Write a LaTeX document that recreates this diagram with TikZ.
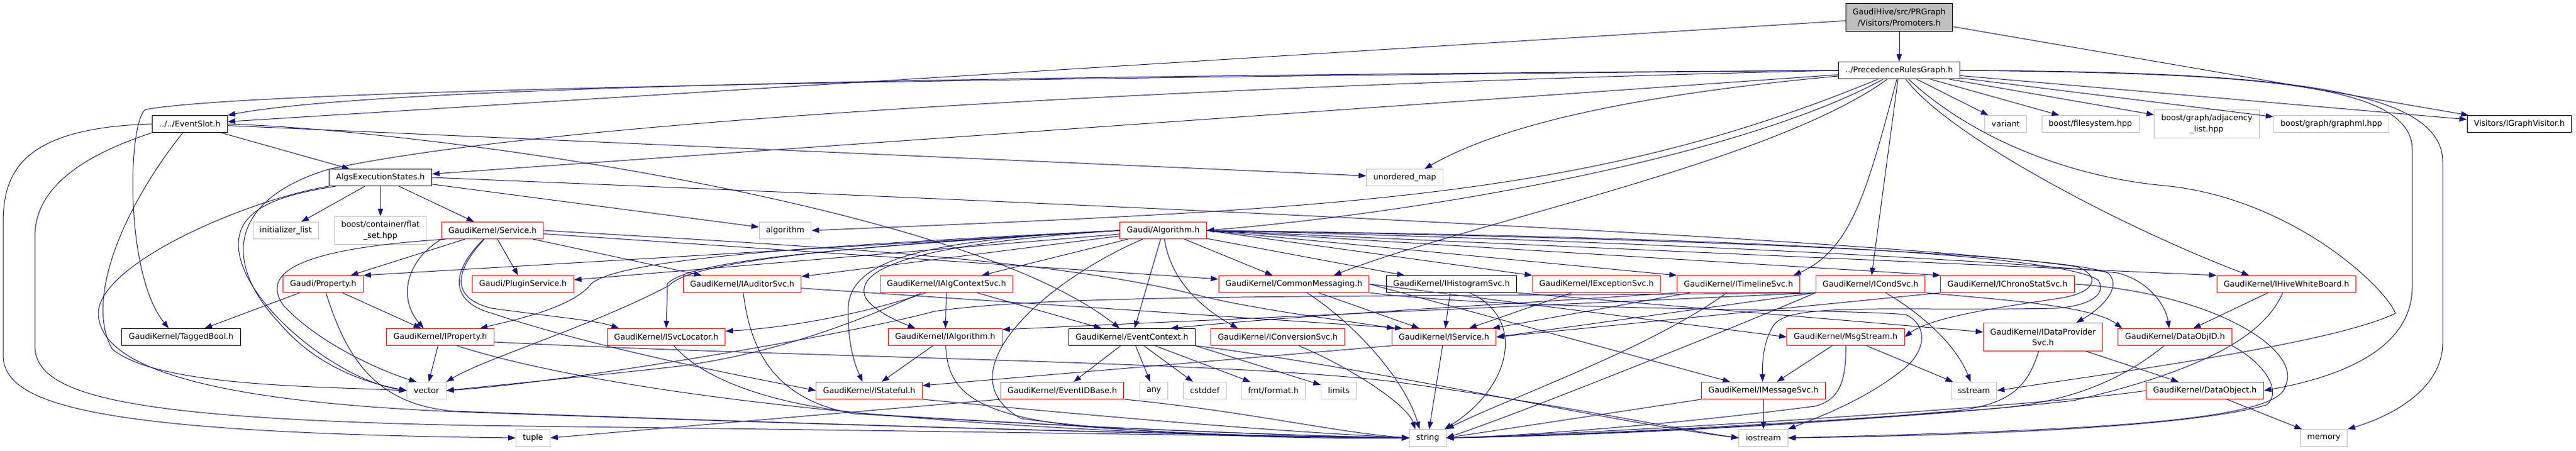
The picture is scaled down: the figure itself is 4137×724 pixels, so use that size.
\documentclass[tikz,border=0pt]{standalone}
\usepackage{fontspec}
\setmainfont{DejaVu Sans}
\usetikzlibrary{arrows.meta}

\definecolor{edgeblue}{HTML}{191970}
\definecolor{sysgray}{HTML}{BFBFBF}

\begin{document}
\begin{tikzpicture}[x=0.75pt, y=-0.75pt, >={Triangle[length=9pt,width=6.5pt]}]
  \tikzstyle{hdr}=[rectangle, draw, line width=0.75pt, inner xsep=8.25pt, inner ysep=0pt, minimum height=20.25pt, align=center, font=\fontsize{9.6}{13.1}\selectfont]
  \tikzstyle{localbox}=[hdr, draw=black]
  \tikzstyle{redbox}=[hdr, draw=red]
  \tikzstyle{sysbox}=[hdr, draw=sysgray]
  \tikzstyle{rootbox}=[hdr, draw=black, fill=sysgray]
  \tikzstyle{twoline}=[minimum height=33.75pt]
  \tikzstyle{inc}=[->, draw=edgeblue, line width=0.75pt]

  \useasboundingbox (0,0) rectangle (4137,724);
  \fill[white] (0,0) rectangle (4137,724);

  % headers, one row per include depth
  \node[rootbox, twoline] (prom) at (3050,28) {GaudiHive/src/PRGraph\\/Visitors/Promoters.h};
  \node[localbox] (prg) at (3050,113) {../PrecedenceRulesGraph.h};

  \node[localbox] (evslot) at (305,199) {../../EventSlot.h};
  \node[sysbox] (variant) at (3221,199) {variant};
  \node[sysbox] (bfs) at (3357,199) {boost/filesystem.hpp};
  \node[sysbox, twoline] (badj) at (3544,199) {boost/graph/adjacency\\\_list.hpp};
  \node[sysbox] (bgml) at (3744,199) {boost/graph/graphml.hpp};
  \node[localbox] (igv) at (4046,199) {Visitors/IGraphVisitor.h};

  \node[localbox] (aes) at (611,285) {AlgsExecutionStates.h};
  \node[sysbox] (umap) at (2256,285) {unordered\_map};

  \node[sysbox] (ilist) at (459,370) {initializer\_list};
  \node[sysbox, twoline] (flatset) at (611,370) {boost/container/flat\\\_set.hpp};
  \node[redbox] (svc) at (791,370) {GaudiKernel/Service.h};
  \node[sysbox] (algo) at (1261,370) {algorithm};
  \node[redbox] (alg) at (1868,370) {Gaudi/Algorithm.h};

  \node[redbox] (prop) at (519,456) {Gaudi/Property.h};
  \node[redbox] (plugin) at (840,456) {Gaudi/PluginService.h};
  \node[redbox] (iaud) at (1192,456) {GaudiKernel/IAuditorSvc.h};
  \node[redbox] (iacs) at (1520,456) {GaudiKernel/IAlgContextSvc.h};
  \node[redbox] (cmsg) at (2078,456) {GaudiKernel/CommonMessaging.h};
  \node[localbox] (ihist) at (2331,456) {GaudiKernel/IHistogramSvc.h};
  \node[redbox] (iexc) at (2564,456) {GaudiKernel/IExceptionSvc.h};
  \node[redbox] (itl) at (2792,456) {GaudiKernel/ITimelineSvc.h};
  \node[redbox] (icond) at (3004,456) {GaudiKernel/ICondSvc.h};
  \node[redbox] (ichrono) at (3224,456) {GaudiKernel/IChronoStatSvc.h};
  \node[redbox] (ihwb) at (3672,456) {GaudiKernel/IHiveWhiteBoard.h};

  \node[localbox] (tbool) at (291,541) {GaudiKernel/TaggedBool.h};
  \node[redbox] (iprop) at (707,541) {GaudiKernel/IProperty.h};
  \node[redbox] (isvcloc) at (1070,541) {GaudiKernel/ISvcLocator.h};
  \node[redbox] (ialg) at (1518,541) {GaudiKernel/IAlgorithm.h};
  \node[localbox] (evctx) at (1818,541) {GaudiKernel/EventContext.h};
  \node[redbox] (iconv) at (2052,541) {GaudiKernel/IConversionSvc.h};
  \node[redbox] (isvc) at (2319,541) {GaudiKernel/IService.h};
  \node[redbox] (msg) at (2964,541) {GaudiKernel/MsgStream.h};
  \node[redbox, twoline] (idps) at (3281,541) {GaudiKernel/IDataProvider\\Svc.h};
  \node[redbox] (doid) at (3493,541) {GaudiKernel/DataObjID.h};

  \node[sysbox] (vector) at (685,627) {vector};
  \node[redbox] (istate) at (1396,627) {GaudiKernel/IStateful.h};
  \node[redbox] (eidb) at (1706,627) {GaudiKernel/EventIDBase.h};
  \node[sysbox] (any) at (1853,627) {any};
  \node[sysbox] (cstddef) at (1935,627) {cstddef};
  \node[sysbox] (fmt) at (2045,627) {fmt/format.h};
  \node[sysbox] (limits) at (2150,627) {limits};
  \node[redbox] (imsg) at (2832,627) {GaudiKernel/IMessageSvc.h};
  \node[sysbox] (sstream) at (3170,627) {sstream};
  \node[redbox] (dobj) at (3541,627) {GaudiKernel/DataObject.h};

  \node[sysbox] (tuple) at (856,703) {tuple};
  \node[sysbox] (string) at (2293,703) {string};
  \node[sysbox] (iostream) at (2832,703) {iostream};
  \node[sysbox] (memory) at (3732,703) {memory};

  % Promoters.h
  \draw[inc] (prom) -- (prg);
  \draw[inc] (prom) -- (evslot);
  \draw[inc] (prom) -- (igv);

  % PrecedenceRulesGraph.h
  \draw[inc] (prg.west) .. controls (1500,122) and (600,140) .. (evslot.north east);
  \draw[inc] (prg.west) .. controls (1200,128) and (370,150) .. (233,176) .. controls (205,200) and (200,440) .. ([xshift=-15pt]tbool.north);
  \draw[inc] (prg) -- (aes);
  \draw[inc] (prg.west) .. controls (2000,135) and (900,190) .. (527,272) .. controls (370,320) and (355,420) .. (450,520) .. controls (510,590) and (590,615) .. (vector.west);
  \draw[inc] (prg) .. controls (2650,150) and (2420,195) .. ([xshift=24pt]umap.north);
  \draw[inc] (prg) .. controls (2550,320) and (2150,335) .. (algo.east);
  \draw[inc] (prg) .. controls (2800,250) and (2300,340) .. (alg.east);
  \draw[inc] (prg) .. controls (2850,260) and (2350,360) .. ([xshift=48pt]cmsg.north);
  \draw[inc] (prg) .. controls (3000,300) and (2975,400) .. ([xshift=-8pt]itl.north east);
  \draw[inc] (prg) -- (icond);
  \draw[inc] (prg) .. controls (3130,220) and (3420,370) .. ([xshift=-45pt]ihwb.north);
  \draw[inc] (prg) .. controls (3170,225) and (3330,285) .. (3476,298) .. controls (3680,318) and (3830,460) .. (3847,503) .. controls (3750,550) and (3420,595) .. (sstream.east);
  \draw[inc] (prg) -- (variant);
  \draw[inc] (prg) -- (bfs);
  \draw[inc] (prg) -- (badj);
  \draw[inc] (prg) -- (bgml);
  \draw[inc] (prg) -- (igv);
  \draw[inc] (prg.east) .. controls (3600,118) and (3874,130) .. (3874,240) -- (3874,460) .. controls (3874,560) and (3760,605) .. (dobj.east);
  \draw[inc] (prg.east) .. controls (3650,115) and (3923,140) .. (3923,260) -- (3923,550) .. controls (3923,620) and (3850,665) .. (memory.north east);

  % EventSlot.h
  \draw[inc] (evslot) -- (aes);
  \draw[inc] (evslot.east) .. controls (700,210) and (1550,330) .. ([xshift=-15pt]evctx.north);
  \draw[inc] (evslot) -- (umap);
  \draw[inc] (evslot.west) .. controls (30,205) and (5,280) .. (5,360) -- (5,570) .. controls (5,650) and (150,695) .. (tuple.west);
  \draw[inc] (evslot.south west) .. controls (100,260) and (56,320) .. (56,380) -- (56,555) .. controls (56,635) and (200,672) .. (760,683) .. controls (1500,692) and (2000,700) .. (string.west);
  \draw[inc] (evslot) .. controls (200,330) and (135,480) .. (180,560) .. controls (250,620) and (500,620) .. (vector.west);

  % AlgsExecutionStates.h
  \draw[inc] (aes) -- (ilist);
  \draw[inc] (aes) -- (flatset);
  \draw[inc] (aes) -- (svc);
  \draw[inc] (aes) -- (algo);
  \draw[inc] ([xshift=8pt]aes.south west) .. controls (460,312) and (385,330) .. (383,390) .. controls (380,480) and (540,610) .. (vector.west);
  \draw[inc] (aes.south west) .. controls (400,320) and (165,420) .. (158,500) .. controls (155,600) and (380,648) .. (760,662) .. controls (1500,688) and (2000,700) .. (string.west);
  \draw[inc] (aes.east) .. controls (1500,318) and (3000,380) .. (3335,428) .. controls (3370,440) and (3375,470) .. (3300,480) .. controls (3200,495) and (3100,510) .. (msg.east);

  % Service.h
  \draw[inc] (svc) -- (plugin);
  \draw[inc] (svc) -- (prop);
  \draw[inc] (svc) -- (iaud);
  \draw[inc] (svc) -- (cmsg);
  \draw[inc] (svc.south west) .. controls (650,420) and (640,480) .. ([xshift=-20pt]iprop.north);
  \draw[inc] (svc) .. controls (725,440) and (728,480) .. (790,495) .. controls (900,510) and (960,515) .. ([xshift=-57pt]isvcloc.north);
  \draw[inc] (svc) .. controls (720,440) and (725,485) .. (790,503) .. controls (980,565) and (1200,605) .. (istate.west);
  \draw[inc] ([xshift=5pt]svc.south west) .. controls (470,400) and (420,440) .. (455,490) .. controls (510,550) and (610,595) .. ([xshift=-12pt]vector.north);
  \draw[inc] (svc.east) .. controls (1300,395) and (1700,415) .. (1940,478) .. controls (2040,500) and (2140,512) .. ([xshift=-60pt]isvc.north);

  % Gaudi/Algorithm.h
  \draw[inc] (alg.west) -- (prop.north east);
  \draw[inc] (alg) -- (plugin);
  \draw[inc] (alg) -- (iaud);
  \draw[inc] (alg.west) .. controls (1300,395) and (1000,415) .. (950,455) .. controls (920,495) and (820,515) .. ([xshift=48pt]iprop.north);
  \draw[inc] (alg.west) .. controls (1300,400) and (1110,420) .. (1072,455) -- (isvcloc.north);
  \draw[inc] (alg.west) .. controls (1350,395) and (1110,420) .. (1075,458) .. controls (960,520) and (780,575) .. (vector.north east);
  \draw[inc] (alg.west) .. controls (1470,385) and (1360,420) .. (1362,500) .. controls (1362,560) and (1375,590) .. ([xshift=-8pt]istate.north);
  \draw[inc] (alg.west) .. controls (1470,392) and (1370,430) .. (1390,478) .. controls (1405,500) and (1440,515) .. ([xshift=-36pt]ialg.north);
  \draw[inc] (alg) -- (iacs);
  \draw[inc] (alg) -- (evctx);
  \draw[inc] (alg) .. controls (1680,450) and (1510,600) .. (1640,672) .. controls (1850,700) and (2100,705) .. (string.west);
  \draw[inc] (alg) -- (cmsg);
  \draw[inc] (alg) -- (ihist);
  \draw[inc] (alg.east) -- (iexc.north west);
  \draw[inc] (alg.east) -- (itl.north west);
  \draw[inc] (alg.east) -- (ichrono.north west);
  \draw[inc] (alg.east) -- (ihwb.north west);
  \draw[inc] (alg.east) .. controls (2600,385) and (3250,420) .. (3400,438) .. controls (3450,450) and (3478,490) .. ([xshift=-7pt]doid.north);
  \draw[inc] (alg.east) .. controls (2600,380) and (3300,405) .. (3385,438) .. controls (3410,460) and (3375,495) .. ([xshift=40pt]idps.north);
  \draw[inc] (alg.east) .. controls (2600,378) and (3300,400) .. (3370,450) .. controls (3385,475) and (3350,492) .. (3300,495) .. controls (3050,500) and (2880,485) .. (2850,520) .. controls (2832,545) and (2830,580) .. ([xshift=-1pt]imsg.north);
  \draw[inc] (alg) .. controls (1880,450) and (1930,495) .. ([xshift=-48pt]iconv.north);

  % CommonMessaging.h
  \draw[inc] (cmsg) -- (isvc);
  \draw[inc] (cmsg) .. controls (2190,530) and (2260,620) .. ([xshift=-10pt]string.north);
  \draw[inc] (cmsg.east) -- (msg.west);
  \draw[inc] (cmsg.east) -- ([xshift=-40pt]imsg.north);
  \draw[inc] (cmsg.south east) .. controls (2450,500) and (2950,495) .. (3060,505) .. controls (3095,520) and (3095,560) .. (3060,590) .. controls (3000,640) and (2920,670) .. (iostream.north east);

  % IHistogramSvc.h, IExceptionSvc.h, ITimelineSvc.h
  \draw[inc] (ihist) -- (isvc);
  \draw[inc] ([xshift=22pt]ihist.south) .. controls (2450,510) and (2430,620) .. ([xshift=20pt]string.north);
  \draw[inc] (ihist.south east) -- ([yshift=6pt]idps.west);
  \draw[inc] (iexc) -- (isvc);
  \draw[inc] (itl) -- (isvc);
  \draw[inc] (itl) .. controls (2650,560) and (2420,640) .. (string.north east);
  \draw[inc] (itl.south west) .. controls (2400,490) and (2100,505) .. ([xshift=-30pt]evctx.north east);

  % ICondSvc.h
  \draw[inc] (icond.south west) -- (isvc.east);
  \draw[inc] (icond.south west) .. controls (2800,520) and (2450,660) .. (string.east);
  \draw[inc] (icond) .. controls (3080,500) and (3140,550) .. ([xshift=-4pt]sstream.north);
  \draw[inc] (icond.south west) -- ([yshift=9pt]ialg.east);
  \draw[inc] (icond.south west) .. controls (2200,478) and (1700,470) .. (1500,500) .. controls (1350,540) and (900,615) .. (vector.east);
  \draw[inc] (icond.south east) .. controls (3200,480) and (3360,490) .. ([xshift=5pt]doid.north west);

  % IChronoStatSvc.h, IHiveWhiteBoard.h
  \draw[inc] (ichrono.south west) -- (isvc.east);
  \draw[inc] (ichrono.east) .. controls (3550,470) and (3700,560) .. (3670,620) .. controls (3660,680) and (3300,692) .. (iostream.east);
  \draw[inc] (ihwb) -- (doid);
  \draw[inc] (ihwb) .. controls (3640,530) and (3560,590) .. (3330,643) .. controls (3000,680) and (2500,700) .. (string.east);

  % DataObjID.h, DataObject.h, IDataProviderSvc.h
  \draw[inc] (doid) .. controls (3420,600) and (3340,645) .. (3200,656) .. controls (2900,680) and (2500,700) .. (string.east);
  \draw[inc] (doid.south east) .. controls (3640,585) and (3665,630) .. (3640,650) .. controls (3500,690) and (3100,700) .. (iostream.east);
  \draw[inc] (dobj) -- (memory);
  \draw[inc] (dobj.west) .. controls (3300,650) and (2600,695) .. (string.east);
  \draw[inc] (idps) -- (dobj);
  \draw[inc] (idps) .. controls (3255,625) and (3225,655) .. (3110,662) .. controls (2800,690) and (2500,700) .. (string.east);

  % MsgStream.h, IMessageSvc.h, IService.h
  \draw[inc] (msg) -- (imsg);
  \draw[inc] (msg) -- (sstream);
  \draw[inc] (msg) .. controls (2965,610) and (2955,642) .. (2915,652) .. controls (2700,680) and (2450,700) .. (string.east);
  \draw[inc] (imsg) -- (iostream);
  \draw[inc] (imsg.south west) -- (string.east);
  \draw[inc] (isvc) -- (string);
  \draw[inc] (isvc.south west) -- ([yshift=6pt]istate.east);

  % IAlgorithm.h, IAlgContextSvc.h
  \draw[inc] (ialg) -- (istate);
  \draw[inc] (ialg) .. controls (1522,620) and (1550,665) .. (1740,685) .. controls (1950,700) and (2150,703) .. (string.west);
  \draw[inc] (iacs) -- (ialg);
  \draw[inc] (iacs) -- (evctx);
  \draw[inc] ([xshift=-25pt]iacs.south) .. controls (1400,500) and (1280,525) .. ([yshift=7pt]isvcloc.east);
  \draw[inc] ([xshift=-30pt]iacs.south) .. controls (1370,520) and (1240,568) .. (1090,588) .. controls (940,605) and (800,618) .. (vector.east);

  % EventContext.h, EventIDBase.h, IStateful.h
  \draw[inc] (evctx) -- (eidb);
  \draw[inc] (evctx) -- (any);
  \draw[inc] (evctx) -- (cstddef);
  \draw[inc] (evctx) -- (fmt);
  \draw[inc] (evctx.south east) -- (limits);
  \draw[inc] (evctx.south east) .. controls (2200,590) and (2600,680) .. (iostream.west);
  \draw[inc] (eidb.south west) -- (tuple.east);
  \draw[inc] (eidb.south east) .. controls (2000,660) and (2150,695) .. (string.west);
  \draw[inc] (istate.south east) .. controls (1700,662) and (2000,690) .. (string.west);

  % IProperty.h, Gaudi/Property.h
  \draw[inc] (iprop) -- (vector);
  \draw[inc] ([xshift=20pt]iprop.south) .. controls (1000,640) and (1600,700) .. (string.west);
  \draw[inc] ([yshift=-6pt]iprop.east) .. controls (1300,575) and (1980,580) .. (2240,613) .. controls (2500,648) and (2700,690) .. (iostream.west);
  \draw[inc] (prop) -- (tbool);
  \draw[inc] (prop) -- (iprop);
  \draw[inc] (prop) .. controls (555,570) and (600,650) .. (730,660) .. controls (1400,685) and (2000,700) .. (string.west);

  % ISvcLocator.h, IAuditorSvc.h, IConversionSvc.h
  \draw[inc] (isvcloc) .. controls (1130,610) and (1240,650) .. (1400,665) .. controls (1800,690) and (2100,700) .. (string.west);
  \draw[inc] ([yshift=-5pt]iaud.east) -- ([xshift=-50pt]isvc.north);
  \draw[inc] (iaud) .. controls (1205,560) and (1240,640) .. (1370,664) .. controls (1800,690) and (2100,700) .. (string.west);
  \draw[inc] (iconv) .. controls (2170,590) and (2260,650) .. ([xshift=-15pt]string.north);
\end{tikzpicture}
\end{document}
